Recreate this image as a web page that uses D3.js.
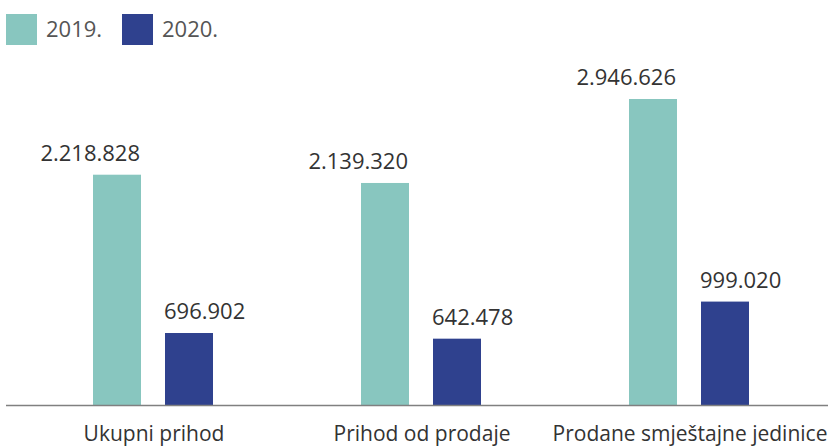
<!DOCTYPE html>
<html>
<head>
<meta charset="utf-8">
<script src="https://cdn.jsdelivr.net/npm/d3@7"></script>
<style>
  html, body { margin: 0; padding: 0; background: #fff; }
  svg { display: block; font-family: "Open Sans", sans-serif; }
</style>
</head>
<body>
<svg id="chart" width="828" height="446"></svg>
<script>
const categories = ["Ukupni prihod", "Prihod od prodaje", "Prodane smještajne jedinice"];
const seriesNames = ["2019.", "2020."];
const values2019 = [2218828, 2139320, 2946626];
const values2020 = [696902, 642478, 999020];
const colors = ["#88c6bf", "#2f418e"];

const fmt = v => d3.format(",")(v).replace(/,/g, ".");

const svg = d3.select("#chart");
const W = 828, H = 446;
const baseY = 405.5;

const x0 = d3.scaleBand().domain(categories).range([19, 823]).padding(0);
const x1 = d3.scaleBand().domain(seriesNames).range([-60, 60]).paddingInner(1/3).paddingOuter(0);
const y = d3.scaleLinear().domain([0, 2946626]).range([baseY, 99]);

const series = [values2019, values2020];

const groups = svg.selectAll("g.grp").data(categories).enter().append("g")
  .attr("transform", d => `translate(${x0(d) + x0.bandwidth()/2},0)`);

groups.each(function(cat, ci) {
  const g = d3.select(this);
  seriesNames.forEach((s, si) => {
    const v = series[si][ci];
    g.append("rect")
      .attr("x", x1(s))
      .attr("width", x1.bandwidth())
      .attr("y", y(v))
      .attr("height", baseY - y(v))
      .attr("fill", colors[si]);
    g.append("text")
      .attr("x", si === 0 ? x1(s) + x1.bandwidth() - 1 : x1(s) - 1)
      .attr("y", y(v) - 14)
      .attr("text-anchor", si === 0 ? "end" : "start")
      .attr("font-size", 22)
      .attr("fill", "#333")
      .text(fmt(v));
  });
  g.append("text")
    .attr("x", 1)
    .attr("y", 441)
    .attr("text-anchor", "middle")
    .attr("font-size", 21)
    .attr("fill", "#333")
    .text(cat);
});

// baseline
svg.append("line")
  .attr("x1", 6).attr("x2", W)
  .attr("y1", baseY).attr("y2", baseY)
  .attr("stroke", "#808080").attr("stroke-width", 1.5);

// legend
const legendX = [6, 122];
seriesNames.forEach((s, i) => {
  svg.append("rect").attr("x", legendX[i]).attr("y", 14).attr("width", 31).attr("height", 31).attr("fill", colors[i]);
  svg.append("text").attr("x", legendX[i] + 40).attr("y", 36.5)
    .attr("font-size", 22).attr("fill", "#555").text(s);
});
</script>
</body>
</html>
